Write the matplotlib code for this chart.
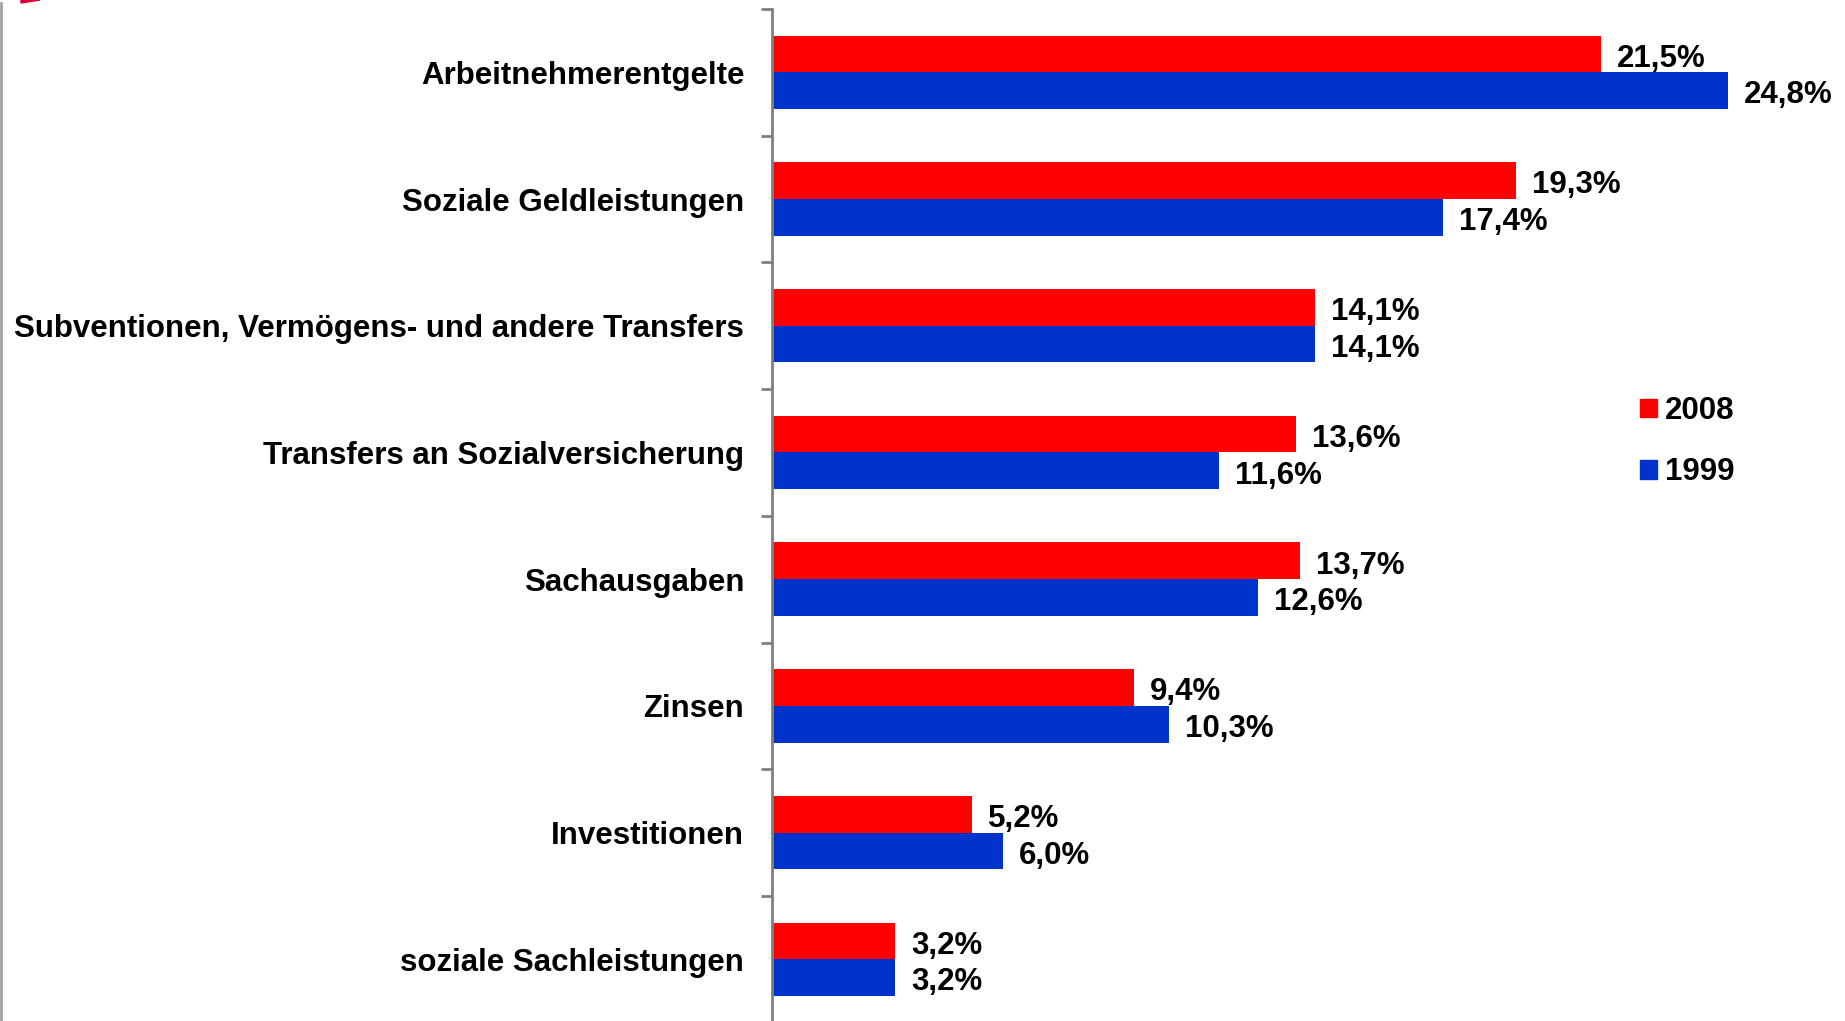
import matplotlib
matplotlib.use("Agg")
import matplotlib.pyplot as plt
from matplotlib.patches import Patch, Polygon
from matplotlib.lines import Line2D
import numpy as np

categories = [
    "Arbeitnehmerentgelte",
    "Soziale Geldleistungen",
    "Subventionen, Vermögens- und andere Transfers",
    "Transfers an Sozialversicherung",
    "Sachausgaben",
    "Zinsen",
    "Investitionen",
    "soziale Sachleistungen",
]
values_2008 = [21.5, 19.3, 14.1, 13.6, 13.7, 9.4, 5.2, 3.2]
values_1999 = [24.8, 17.4, 14.1, 11.6, 12.6, 10.3, 6.0, 3.2]
series_names = ["2008", "1999"]
labels_2008 = ["21,5%", "19,3%", "14,1%", "13,6%", "13,7%", "9,4%", "5,2%", "3,2%"]
labels_1999 = ["24,8%", "17,4%", "14,1%", "11,6%", "12,6%", "10,3%", "6,0%", "3,2%"]

RED = "#FF0000"
BLUE = "#0033CC"
FS = 22.5

plt.rcParams["font.family"] = ["Liberation Sans", "DejaVu Sans"]
plt.rcParams["font.weight"] = "bold"

W, H = 1845, 1021
fig = plt.figure(figsize=(W / 100, H / 100), dpi=100)

ax_left = 772 / W
ax_top = 1 - 9 / H
ax_bottom = 1 - 1022.6 / H
ax = fig.add_axes([ax_left, ax_bottom, 1 - ax_left, ax_top - ax_bottom])

n = len(categories)
y = np.arange(n)
bh = 0.29
ax.barh(y - bh / 2, values_2008, height=bh, color=RED, label=series_names[0])
ax.barh(y + bh / 2, values_1999, height=bh, color=BLUE, label=series_names[1])

for i in range(n):
    ax.annotate(labels_2008[i], (values_2008[i], y[i] - bh / 2), xytext=(11.5, -3.4),
                textcoords="offset points", va="center", ha="left",
                fontsize=FS, fontweight="bold")
    ax.annotate(labels_1999[i], (values_1999[i], y[i] + bh / 2), xytext=(11.5, -3.4),
                textcoords="offset points", va="center", ha="left",
                fontsize=FS, fontweight="bold")

ax.set_xlim(0, (W - 772) / 38.54)
ax.set_ylim(n - 0.5, -0.5)
ax.set_yticks(y)
ax.set_yticklabels(categories, fontsize=FS, fontweight="bold")
ax.tick_params(axis="y", which="major", length=0, pad=20)
ax.set_yticks(np.arange(n + 1) - 0.5, minor=True)
ax.tick_params(axis="y", which="minor", length=8, width=2, color="#808080")
ax.set_xticks([])
for s in ["top", "right", "bottom"]:
    ax.spines[s].set_visible(False)
ax.spines["left"].set_color("#808080")
ax.spines["left"].set_linewidth(2)
ax.patch.set_alpha(0)

handles = [Patch(color=RED), Patch(color=BLUE)]
leg = ax.legend(handles, series_names, loc="upper left",
                bbox_to_anchor=((1640 - 772) / (W - 772), (1 - 396 / H - ax_bottom) / (ax_top - ax_bottom)),
                bbox_transform=ax.transAxes,
                frameon=False, prop={"weight": "bold", "size": FS},
                handlelength=0.55, handleheight=0.55, handletextpad=0.25,
                labelspacing=1.0, borderpad=0, borderaxespad=0)

# left border line and corner decoration
fig.add_artist(Line2D([1 / W, 1 / W], [0, 1 - 3 / H], transform=fig.transFigure,
                      color="#A0A0A0", linewidth=2))
fig.add_artist(Polygon([[21 / W, 1 - 3 / H], [40 / W, 1], [21 / W, 1]],
                       closed=True, transform=fig.transFigure, color="#D8003A"))

fig.savefig("out.png", dpi=100)
